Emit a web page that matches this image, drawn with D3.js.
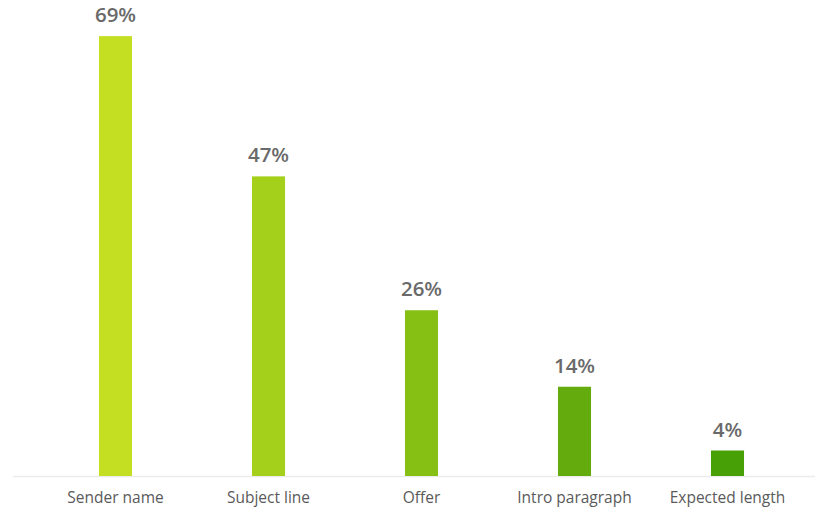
<!DOCTYPE html>
<html>
<head>
<meta charset="utf-8">
<script src="https://cdn.jsdelivr.net/npm/d3@7"></script>
<style>
  body { margin: 0; background: #fff; }
</style>
</head>
<body>
<div id="chart"></div>
<script>
const categories = ["Sender name", "Subject line", "Offer", "Intro paragraph", "Expected length"];
const values = [69, 47, 26, 14, 4];
const barColors = ["#c4df22", "#a4d01b", "#86c015", "#64ac0e", "#47a006"];

const width = 815, height = 509;
const baseY = 476;

const svg = d3.select("#chart").append("svg")
  .attr("width", width)
  .attr("height", height)
  .attr("font-family", "'Open Sans', Lato, sans-serif");

const x = d3.scaleBand()
  .domain(categories)
  .range([39, 804])
  .paddingInner(0.784)
  .paddingOuter(0.392);

const y = d3.scaleLinear()
  .domain([0, 72])
  .range([baseY, 17]);

// baseline
svg.append("line")
  .attr("x1", 13).attr("x2", width)
  .attr("y1", baseY + 0.5).attr("y2", baseY + 0.5)
  .attr("stroke", "#ececec")
  .attr("stroke-width", 1.5);

const data = categories.map((c, i) => ({ cat: c, v: values[i], color: barColors[i] }));

svg.append("g")
  .selectAll("rect")
  .data(data)
  .join("rect")
  .attr("x", d => x(d.cat))
  .attr("y", d => y(d.v))
  .attr("width", x.bandwidth())
  .attr("height", d => baseY - y(d.v))
  .attr("fill", d => d.color);

// value labels
svg.append("g")
  .selectAll("text")
  .data(data)
  .join("text")
  .attr("x", d => x(d.cat) + x.bandwidth() / 2)
  .attr("y", d => y(d.v) - 14)
  .attr("text-anchor", "middle")
  .attr("font-size", 20.5)
  .attr("font-weight", 600)
  .attr("fill", "#6a6a6a")
  .text(d => d.v + "%");

// category labels
svg.append("g")
  .selectAll("text")
  .data(data)
  .join("text")
  .attr("x", d => x(d.cat) + x.bandwidth() / 2)
  .attr("y", 503)
  .attr("text-anchor", "middle")
  .attr("font-size", 15.5)
  .attr("fill", "#5a5a5a")
  .text(d => d.cat);
</script>
</body>
</html>
